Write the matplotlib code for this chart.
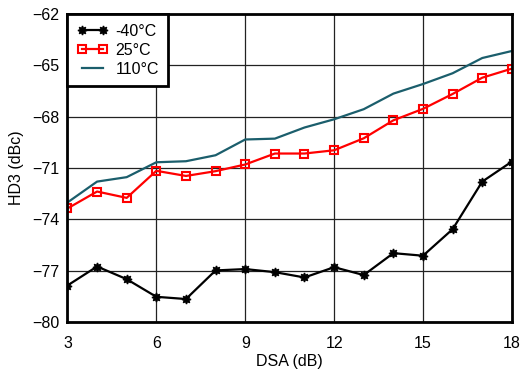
import matplotlib
matplotlib.use("Agg")
import matplotlib.pyplot as plt

plt.rcParams["font.family"] = ["Liberation Sans", "DejaVu Sans"]

dsa = [3, 4, 5, 6, 7, 8, 9, 10, 11, 12, 13, 14, 15, 16, 17, 18]
hd3_m40 = [-77.86, -76.75, -77.49, -78.52, -78.65, -76.98, -76.90, -77.08,
           -77.39, -76.79, -77.25, -75.97, -76.12, -74.57, -71.79, -70.62]
hd3_25 = [-73.36, -72.37, -72.74, -71.16, -71.46, -71.18, -70.79, -70.15,
          -70.15, -69.96, -69.26, -68.21, -67.54, -66.67, -65.72, -65.19]
hd3_110 = [-73.01, -71.79, -71.53, -70.66, -70.60, -70.25, -69.33, -69.28,
           -68.63, -68.15, -67.56, -66.65, -66.09, -65.46, -64.57, -64.16]
labels = ["-40\u00b0C", "25\u00b0C", "110\u00b0C"]
xticks = [3, 6, 9, 12, 15, 18]
yticks = [-80, -77, -74, -71, -68, -65, -62]

fig = plt.figure(figsize=(5.31, 3.69), dpi=100)
ax = fig.add_axes([0.127, 0.127, 0.837, 0.835])

ax.plot(dsa, hd3_m40, color="black", lw=1.6, marker=(8, 1, 0), ms=6.5,
        label=labels[0])
ax.plot(dsa, hd3_25, color="#ff0000", lw=1.6, marker="s", ms=6,
        mfc="none", mec="#ff0000", mew=1.5, label=labels[1])
ax.plot(dsa, hd3_110, color="#1b5e6c", lw=1.6, label=labels[2])

ax.set_xlim(3, 18)
ax.set_ylim(-80, -62)
ax.set_xticks(xticks)
ax.set_yticks(yticks)
ax.grid(True, color="#222222", lw=0.9)
ax.set_axisbelow(True)
ax.tick_params(length=0, labelsize=11.5)
ax.tick_params(axis="x", pad=10)
ax.tick_params(axis="y", pad=6)
for s in ax.spines.values():
    s.set_linewidth(2)
    s.set_color("black")

ax.set_xlabel("DSA (dB)", fontsize=11.5, labelpad=2)
ax.set_ylabel("HD3 (dBc)", fontsize=11.5, labelpad=6)

leg = ax.legend(loc="upper left", fontsize=11.5, fancybox=False, framealpha=1,
                edgecolor="black", borderaxespad=0, handlelength=1.9,
                handletextpad=0.5, borderpad=0.6, labelspacing=0.25,
                numpoints=2)
leg.get_frame().set_linewidth(2)

fig.savefig("out.png", dpi=100)
